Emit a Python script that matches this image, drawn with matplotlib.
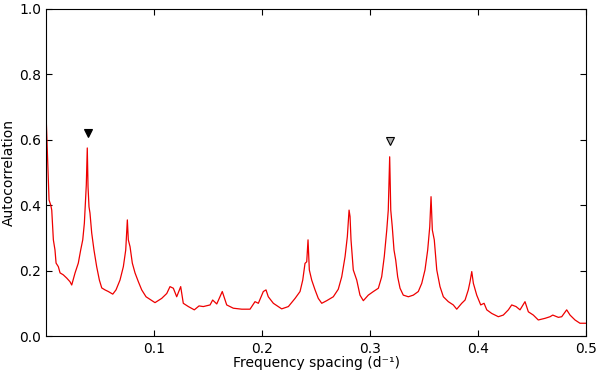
#!/usr/bin/env python3
"""
plot.py - autocorrelation vs frequency spacing, with the two marked spacings.
"""

import matplotlib
matplotlib.use("Agg")
import matplotlib.pyplot as plt

# Values (frequency spacing in d^-1)
freq = [
    0.0, 0.0012, 0.0028, 0.0044, 0.0053, 0.0058, 0.0068, 0.0083, 0.0093, 0.0114,
    0.0130, 0.0160, 0.0192, 0.0222, 0.0238, 0.0269, 0.0299, 0.0321, 0.0340, 0.0355,
    0.0368, 0.0373, 0.0382, 0.0389, 0.0398, 0.0407, 0.0423, 0.0444, 0.0469, 0.0494,
    0.0516, 0.0546, 0.0577, 0.0618, 0.0648, 0.0685, 0.0716, 0.0738, 0.0753, 0.0762,
    0.0778, 0.0799, 0.0824, 0.0855, 0.0886, 0.0926, 0.0963, 0.1009, 0.1071, 0.1118,
    0.1148, 0.1179, 0.1210, 0.1247, 0.1271, 0.1318, 0.1373, 0.1417, 0.1456, 0.1519,
    0.1543, 0.1581, 0.1632, 0.1673, 0.1734, 0.1812, 0.1889, 0.1935, 0.1966, 0.2012,
    0.2037, 0.2058, 0.2105, 0.2182, 0.2244, 0.2306, 0.2352, 0.2377, 0.2398, 0.2414,
    0.2426, 0.2438, 0.2460, 0.2491, 0.2521, 0.2553, 0.2599, 0.2660, 0.2706, 0.2738,
    0.2769, 0.2790, 0.2806, 0.2815, 0.2824, 0.2845, 0.2877, 0.2907, 0.2938, 0.2984,
    0.3031, 0.3077, 0.3108, 0.3132, 0.3155, 0.3169, 0.3182, 0.3192, 0.3206, 0.3222,
    0.3238, 0.3256, 0.3278, 0.3308, 0.3355, 0.3401, 0.3447, 0.3479, 0.3509, 0.3534,
    0.3553, 0.3565, 0.3577, 0.3595, 0.3618, 0.3648, 0.3679, 0.3725, 0.3771, 0.3803,
    0.3849, 0.3880, 0.3910, 0.3926, 0.3942, 0.3957, 0.3988, 0.4025, 0.4056, 0.4081,
    0.4127, 0.4188, 0.4234, 0.4281, 0.4312, 0.4352, 0.4389, 0.4435, 0.4466, 0.4512,
    0.4558, 0.4620, 0.4667, 0.4692, 0.4744, 0.4775, 0.4821, 0.4852, 0.4898, 0.4944,
    0.5000,
]
autocorr = [
    0.680, 0.569, 0.416, 0.400, 0.385, 0.355, 0.294, 0.263, 0.223, 0.212,
    0.193, 0.187, 0.177, 0.166, 0.156, 0.193, 0.223, 0.263, 0.294, 0.345,
    0.426, 0.462, 0.575, 0.456, 0.395, 0.376, 0.315, 0.263, 0.212, 0.171,
    0.147, 0.141, 0.136, 0.128, 0.141, 0.171, 0.212, 0.263, 0.355, 0.294,
    0.273, 0.223, 0.193, 0.166, 0.141, 0.120, 0.112, 0.102, 0.115, 0.130,
    0.151, 0.146, 0.120, 0.151, 0.100, 0.090, 0.080, 0.092, 0.090, 0.095,
    0.110, 0.098, 0.136, 0.095, 0.085, 0.082, 0.082, 0.105, 0.100, 0.136,
    0.141, 0.120, 0.100, 0.083, 0.090, 0.115, 0.136, 0.171, 0.222, 0.227,
    0.294, 0.202, 0.171, 0.141, 0.115, 0.100, 0.108, 0.120, 0.143, 0.181,
    0.243, 0.304, 0.385, 0.365, 0.294, 0.202, 0.171, 0.125, 0.108, 0.125,
    0.136, 0.146, 0.181, 0.243, 0.324, 0.385, 0.548, 0.385, 0.334, 0.263,
    0.232, 0.181, 0.146, 0.125, 0.120, 0.125, 0.136, 0.161, 0.202, 0.263,
    0.334, 0.426, 0.324, 0.294, 0.202, 0.151, 0.120, 0.105, 0.095, 0.082,
    0.100, 0.110, 0.141, 0.166, 0.197, 0.161, 0.125, 0.095, 0.100, 0.080,
    0.069, 0.059, 0.064, 0.080, 0.095, 0.090, 0.080, 0.105, 0.074, 0.064,
    0.049, 0.054, 0.059, 0.064, 0.057, 0.059, 0.080, 0.064, 0.049, 0.039,
    0.039,
]

# Marked spacings: filled = first, open = second
mark_x = [0.0386, 0.3182]
mark_y = [0.622, 0.597]
mark_face = ["black", "#b0b0b0"]


def main():
    fig = plt.figure(figsize=(6.0, 3.74), dpi=100)
    ax = fig.add_axes([0.0767, 0.1016, 0.9, 0.8744])

    ax.plot(freq, autocorr, color="#ee0000", lw=0.9)
    for x, y, fc in zip(mark_x, mark_y, mark_face):
        ax.plot(x, y, marker="v", ms=6, mfc=fc, mec="black", mew=0.8, ls="none")

    ax.set_xlim(0, 0.5)
    ax.set_ylim(0, 1.0)
    ax.set_xticks([0.1, 0.2, 0.3, 0.4, 0.5])
    ax.set_yticks([0.0, 0.2, 0.4, 0.6, 0.8, 1.0])
    ax.tick_params(direction="in", top=True, right=True, labelsize=10, length=4)
    ax.tick_params(axis="x", pad=4)
    ax.set_xlabel("Frequency spacing (d\u207b\u00b9)", fontsize=10, labelpad=0)
    ax.set_ylabel("Autocorrelation", fontsize=10, labelpad=2)

    fig.savefig("out.png", dpi=100)
    plt.close(fig)


if __name__ == "__main__":
    main()
